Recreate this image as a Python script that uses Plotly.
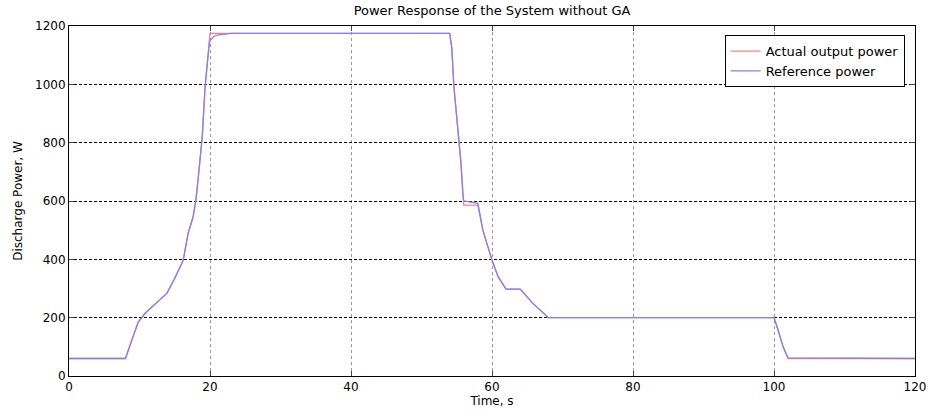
import plotly.graph_objects as go

# Reference power (blue)
t_ref = [0, 8, 9.8, 10.8, 13.9, 15, 16.2, 16.9, 17.6, 18, 18.3, 18.9, 19.3, 19.7, 19.9, 20,
         20.5, 21, 22, 23, 54, 54.3, 54.6, 55, 55.3, 55.6, 55.9, 56, 58, 58.7, 60, 60.9, 61.9,
         62, 64, 65.8, 68, 100, 100.6, 101.3, 102, 120]
p_ref = [60, 60, 184, 215, 284, 335, 397, 490, 545, 603, 672, 820, 991, 1107, 1140, 1150,
         1163, 1169, 1173, 1175, 1175, 1124, 991, 878, 798, 730, 613, 600, 592, 500, 397, 339, 301,
         298, 298, 249, 200, 200, 156, 99, 62, 60]

# Actual output power (red)
t_act = [0, 8, 9.8, 10.8, 13.9, 15, 16.2, 16.9, 17.6, 18, 18.3, 18.9, 19.3, 19.7, 19.9, 20,
         54, 54.3, 54.6, 55, 55.3, 55.6, 55.9, 56, 58, 58.7, 60, 60.9, 61.9, 62, 64, 65.8, 68,
         100, 100.6, 101.3, 102, 120]
p_act = [60, 60, 184, 215, 284, 335, 397, 490, 545, 603, 672, 820, 991, 1107, 1152, 1175,
         1175, 1124, 991, 878, 798, 730, 613, 586, 586, 500, 397, 339, 301, 298, 298, 249, 200,
         200, 156, 99, 60, 60]

x_ticks = [0, 20, 40, 60, 80, 100, 120]
y_ticks = [0, 200, 400, 600, 800, 1000, 1200]

font = "DejaVu Sans, Arial, sans-serif"

fig = go.Figure()
fig.add_trace(go.Scatter(x=t_act, y=p_act, mode="lines", name="Actual output power",
                         line=dict(color="#ff8080", width=1.3)))
fig.add_trace(go.Scatter(x=t_ref, y=p_ref, mode="lines", name="Reference power",
                         line=dict(color="#8080ff", width=1.3)))

fig.update_layout(
    width=930, height=412, autosize=False,
    margin=dict(l=69, r=15, t=26, b=36, autoexpand=False),
    paper_bgcolor="white", plot_bgcolor="white",
    font=dict(family=font, size=12, color="black"),
    title=dict(text="Power Response of the System without GA", x=0.5, xref="paper",
               xanchor="center", y=0.975, yanchor="middle", font=dict(size=13, family=font)),
    showlegend=True,
    legend=dict(x=0.775, y=0.974, xanchor="left", yanchor="top",
                bordercolor="black", borderwidth=1, bgcolor="white",
                font=dict(size=13, family=font), tracegroupgap=0,
                itemwidth=30),
)
fig.update_xaxes(range=[0, 120], tickvals=x_ticks, ticks="inside", ticklen=5,
                 showline=True, linecolor="black", linewidth=1, mirror="ticks",
                 showgrid=True, gridcolor="#999999", griddash="dot", gridwidth=1,
                 zeroline=False, automargin=False,
                 title=dict(text="Time, s", standoff=2, font=dict(size=12)),
                 tickfont=dict(size=12))
fig.update_yaxes(range=[0, 1200], tickvals=y_ticks, ticks="inside", ticklen=5,
                 showline=True, linecolor="black", linewidth=1, mirror="ticks",
                 showgrid=True, gridcolor="black", griddash="3px,2px", gridwidth=1,
                 zeroline=False, automargin=False,
                 title=dict(text="Discharge Power, W", standoff=9, font=dict(size=12)),
                 tickfont=dict(size=12))

fig.write_html("out.html")
